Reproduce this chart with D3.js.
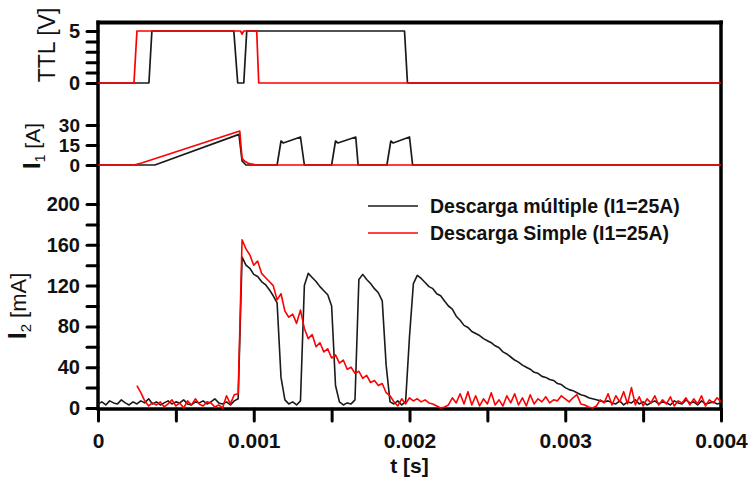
<!DOCTYPE html>
<html>
<head>
<meta charset="utf-8">
<script src="https://cdn.jsdelivr.net/npm/d3@7"></script>
<style>
  body { margin: 0; background: #fff; }
  svg { font-family: "Liberation Sans", Arial, sans-serif; }
</style>
</head>
<body>
<div id="chart"></div>
<script>
// ---- data (time in ms) ----
// TTL signal [V], piecewise breakpoints
const ttlBlackT = [0, 0.327, 0.346, 0.872, 0.897, 0.936, 0.955, 1.968, 1.987, 4];
const ttlBlackV = [0, 0, 5, 5, 0, 0, 5, 5, 0, 0];
const ttlRedT = [0, 0.231, 0.25, 0.915, 0.925, 0.935, 1.019, 1.032, 4];
const ttlRedV = [0, 0, 5, 5, 4.7, 5, 5, 0, 0];

// I1 [A]
const i1BlackT = [0, 0.365, 0.905, 0.925, 0.95, 1.15, 1.175, 1.19, 1.30, 1.325, 1.50, 1.525, 1.54, 1.655, 1.67, 1.855, 1.88, 1.895, 2.0, 2.02, 4];
const i1BlackV = [0, 0, 23, 3, 0, 0, 18, 16.5, 21, 0, 0, 18, 16.5, 21, 0, 0, 18, 16.5, 21, 0, 0];
const i1RedT = [0, 0.231, 0.28, 0.91, 0.925, 0.94, 0.97, 1.02, 4];
const i1RedV = [0, 0, 1.5, 25.5, 5, 3, 1, 0, 0];

// I2 [mA], sampled every 0.025 ms
const i2Step = 0.025;
const i2Black = [
  4,6,3,7,5,4,8,5,3,6, 4,7,5,9,4,6,3,5,7,4, 6,5,8,4,3,6,5,7,4,6, 9,5,4,6,3,7,
  9,
  148,140,137,131,129,124,121,116,110,103,
  30, 8,
  4,6,3,7,
  120,132,
  128,124,119,115,111,100,
  22, 6,
  3,5,4,8,
  126,131,
  126,122,117,113,105,42,
  6,
  4,7,3,6,
  70,122,130,
  127,123,119,117,112,110,105,100,97,90,86,81,79,75,73,71,68,66,64,61,
  59,55,53,50,47,45,42,40,38,35,34,31,30,28,27,24,23,20,18,17,
  15,13,12,10,9,8,7,6,7,
  5,4,7,3,6,5,8,4,6,3,5,7,4,6,5,3,7,5,4,8,5,6,3,7,4,5,6,4,5
];
const i2Red = [
  null,null,null,null,null,null,null,null,null,null,
  22,15,7,2,5,
  3,6,1,4,8,2,5,0,7,3,9,4,2,6,5,1,3,0,
  12,4,13,14,
  165,
  156,150,140,144,132,128,124,120,106,112,95,89,92,83,96,78,68,72,60,64,
  55,58,49,52,44,47,38,40,34,36,29,32,25,27,22,24,15,12,6,2,9,4,
  10,7,9,6,8,5,4,2,0,1,
  3,10,5,14,4,16,3,12,2,9,
  4,15,3,8,2,12,5,14,3,10,
  2,13,4,9,6,11,5,8,7,12,
  9,6,10,13,4,3,1,0,2,8,
  5,14,3,12,6,16,4,20,3,11,
  2,9,5,12,3,8,4,11,2,7,
  5,10,3,9,4,12,2,8,5,10,6
];

// ticks
const xTicks = [0, 0.5, 1, 1.5, 2, 2.5, 3, 3.5, 4];
const xTickLabels = {0: "0", 1: "0.001", 2: "0.002", 3: "0.003", 4: "0.004"};
const ttlTicks = [0, 1, 2, 3, 4, 5];
const ttlLabels = [0, 5];
const i1Ticks = [0, 15, 30];
const i2Ticks = [0, 20, 40, 60, 80, 100, 120, 140, 160, 180, 200];
const i2Labels = [0, 40, 80, 120, 160, 200];

const legendNames = ["Descarga múltiple (I1=25A)", "Descarga Simple (I1=25A)"];
const colors = ["#1a1a1a", "#ff0000"];

// ---- layout ----
const W = 751, H = 484;
const plotLeft = 98, plotRight = 721, plotTop = 22, plotBottom = 409;

const svg = d3.select("#chart").append("svg")
  .attr("width", W)
  .attr("height", H);

const x = d3.scaleLinear().domain([0, 4]).range([plotLeft, plotRight]);
const yTTL = d3.scaleLinear().domain([0, 5]).range([83, 31]);
const yI1 = d3.scaleLinear().domain([0, 30]).range([165, 125]);
const yI2 = d3.scaleLinear().domain([0, 200]).range([408, 204]);

// y axes
function leftAxis(scale, ticks, labels, fontSize) {
  const g = svg.append("g")
    .attr("transform", `translate(${plotLeft},0)`)
    .call(d3.axisLeft(scale)
      .tickValues(ticks)
      .tickSize(11)
      .tickPadding(7)
      .tickFormat(d => labels.includes(d) ? d : ""));
  g.select(".domain").remove();
  g.selectAll(".tick line").attr("stroke", "#000").attr("stroke-width", 3).attr("stroke-linecap", "round");
  g.selectAll(".tick text")
    .attr("fill", "#111")
    .style("font-size", fontSize + "px")
    .style("font-weight", "bold");
}
leftAxis(yTTL, ttlTicks, ttlLabels, 20);
leftAxis(yI1, i1Ticks, i1Ticks, 19);
leftAxis(yI2, i2Ticks, i2Labels, 20);

// x axis
const xg = svg.append("g")
  .attr("transform", `translate(0,${plotBottom})`)
  .call(d3.axisBottom(x)
    .tickValues(xTicks)
    .tickSize(12)
    .tickPadding(12)
    .tickFormat(d => xTickLabels[d] || ""));
xg.select(".domain").remove();
xg.selectAll(".tick line").attr("stroke", "#000").attr("stroke-width", 3).attr("stroke-linecap", "round");
xg.selectAll(".tick text")
  .attr("fill", "#111")
  .style("font-size", "21px")
  .style("font-weight", "bold");

// frame
svg.append("line").attr("x1", plotLeft - 1.5).attr("x2", plotRight + 2).attr("y1", plotTop + 0.5).attr("y2", plotTop + 0.5)
  .attr("stroke", "#000").attr("stroke-width", 4);
svg.append("line").attr("x1", plotRight).attr("x2", plotRight).attr("y1", plotTop - 1.5).attr("y2", plotBottom + 1.5)
  .attr("stroke", "#000").attr("stroke-width", 3.5);
svg.append("line").attr("x1", plotLeft).attr("x2", plotLeft).attr("y1", plotTop - 1.5).attr("y2", plotBottom + 1.5)
  .attr("stroke", "#000").attr("stroke-width", 3.5);
svg.append("line").attr("x1", plotLeft).attr("x2", plotRight).attr("y1", plotBottom).attr("y2", plotBottom)
  .attr("stroke", "#000").attr("stroke-width", 3.5);

// traces
function drawPairs(ts, vs, yScale, color) {
  const pts = ts.map((t, i) => [t, vs[i]]);
  svg.append("path")
    .datum(pts)
    .attr("fill", "none")
    .attr("stroke", color)
    .attr("stroke-width", 1.7)
    .attr("stroke-linejoin", "round")
    .attr("d", d3.line().x(d => x(d[0])).y(d => yScale(d[1])));
}
drawPairs(ttlBlackT, ttlBlackV, yTTL, colors[0]);
drawPairs(ttlRedT, ttlRedV, yTTL, colors[1]);
drawPairs(i1BlackT, i1BlackV, yI1, colors[0]);
drawPairs(i1RedT, i1RedV, yI1, colors[1]);

function drawSampled(vals, color) {
  svg.append("path")
    .datum(vals.map((v, i) => [i * i2Step, v]))
    .attr("fill", "none")
    .attr("stroke", color)
    .attr("stroke-width", 1.6)
    .attr("stroke-linejoin", "round")
    .attr("d", d3.line()
      .defined(d => d[1] != null)
      .x(d => x(d[0]))
      .y(d => yI2(d[1])));
}
drawSampled(i2Black, colors[0]);
drawSampled(i2Red, colors[1]);

// legend
legendNames.forEach((name, i) => {
  const ly = 206 + i * 27;
  svg.append("line")
    .attr("x1", 368).attr("x2", 418)
    .attr("y1", ly).attr("y2", ly)
    .attr("stroke", colors[i]).attr("stroke-width", 1.5);
  svg.append("text")
    .attr("x", 430).attr("y", ly + 7)
    .attr("fill", "#111")
    .style("font-size", "19.5px")
    .style("font-weight", "bold")
    .text(name);
});

// axis titles
svg.append("text")
  .attr("transform", "translate(55,45) rotate(-90)")
  .attr("text-anchor", "middle")
  .attr("fill", "#111")
  .style("font-size", "23px")
  .text("TTL [V]");

function subTitle(tx, ty, sub, rest, size) {
  const t = svg.append("text")
    .attr("transform", `translate(${tx},${ty}) rotate(-90)`)
    .attr("text-anchor", "middle")
    .attr("fill", "#111");
  t.append("tspan").style("font-size", (size + 3) + "px").style("font-weight", "bold").text("I");
  t.append("tspan").style("font-size", (size - 7) + "px").attr("dy", 5).text(sub);
  t.append("tspan").style("font-size", size + "px").attr("dy", -5).text(" " + rest);
}
subTitle(40, 146, "1", "[A]", 21);
subTitle(26, 306, "2", "[mA]", 22);

svg.append("text")
  .attr("x", x(2))
  .attr("y", 473)
  .attr("text-anchor", "middle")
  .attr("fill", "#111")
  .style("font-size", "21px")
  .style("font-weight", "bold")
  .text("t [s]");
</script>
</body>
</html>
